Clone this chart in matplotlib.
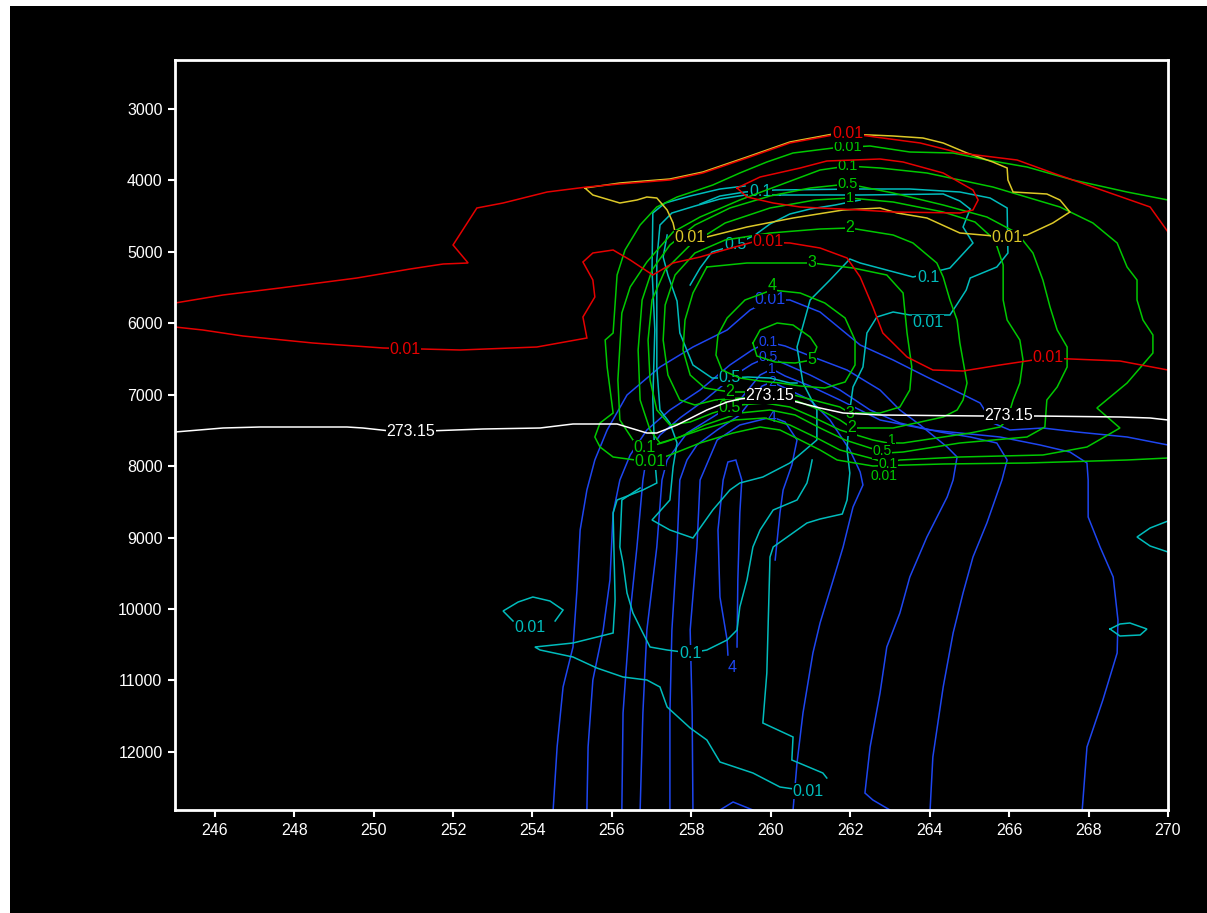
import matplotlib
matplotlib.use("Agg")
import matplotlib.pyplot as plt
from matplotlib.patches import Rectangle

# ---------------- data (x = horizontal coordinate, y = height) ----------------
x_ticks = [246, 248, 250, 252, 254, 256, 258, 260, 262, 264, 266, 268, 270]
y_ticks = [3000, 4000, 5000, 6000, 7000, 8000, 9000, 10000, 11000, 12000]

# 273.15 isotherm
white_x = [245.00, 246.21, 247.14, 249.33, 249.73, 250.66, 252.75, 254.19, 255.02, 256.13, 256.38, 256.88,
           257.13, 257.64, 258.39, 258.90, 259.22, 259.98, 260.66, 261.24, 261.82, 262.75, 265.32, 266.70,
           268.79, 269.55, 270.00]
white_y = [7522, 7466, 7452, 7452, 7466, 7522, 7480, 7466, 7410, 7410, 7452, 7536, 7536, 7424, 7214, 7102,
           7060, 7018, 7102, 7186, 7256, 7284, 7298, 7298, 7312, 7326, 7354]
white_lab = [("273.15", 250.94, 7522), ("273.15", 259.98, 7018), ("273.15", 266.00, 7298)]

# red 0.01 contours
red_top_x = [245.00, 246.21, 247.64, 249.58, 250.92, 251.75, 252.38, 252.00, 252.60, 253.26, 254.37, 255.37,
             256.20, 257.46, 258.29, 259.40, 260.48, 261.57, 262.25, 263.76, 264.76, 266.20, 267.10, 268.11,
             269.55, 270.00]
red_top_y = [5716, 5604, 5506, 5366, 5240, 5170, 5156, 4904, 4386, 4316, 4162, 4092, 4050, 3994, 3896, 3686,
             3476, 3364, 3364, 3476, 3616, 3714, 3896, 4092, 4372, 4722]
red_low_x = [245.00, 245.70, 246.71, 248.47, 250.24, 252.18, 254.11, 255.37, 255.27, 255.57, 255.52, 255.27,
             255.52, 256.03, 256.46, 257.03, 257.54, 258.22, 258.65, 259.55, 260.48, 261.24, 261.92, 262.25,
             262.57, 262.82, 263.43, 264.08, 264.84, 265.77, 266.95, 268.79, 270.00]
red_low_y = [6052, 6094, 6178, 6276, 6346, 6374, 6332, 6206, 5912, 5632, 5394, 5142, 5016, 4974, 5114, 5324,
             5156, 5072, 5002, 4862, 4876, 4946, 5086, 5352, 5772, 6136, 6472, 6654, 6668, 6584, 6486, 6528, 6654]
red_in_x = [259.15, 259.73, 260.74, 261.41, 262.75, 263.33, 264.34, 265.09, 265.22, 265.09, 264.76, 263.08,
            262.25, 260.74, 260.06, 259.40, 259.15]
red_in_y = [4106, 3952, 3826, 3728, 3700, 3742, 3896, 4134, 4274, 4414, 4456, 4442, 4414, 4372, 4316, 4232, 4106]
red_lab = [("0.01", 250.79, 6374), ("0.01", 259.93, 4862), ("0.01", 266.98, 6486), ("0.01", 261.94, 3340)]

# yellow 0.01 contour
yel_x = [255.32, 255.52, 256.20, 256.63, 256.88, 257.13, 257.39, 257.54, 257.59, 258.39, 259.40, 260.56, 261.82,
         262.75, 263.18, 263.93, 264.76, 265.90, 266.45, 267.10, 267.53, 267.28, 266.95, 266.10, 265.97, 265.95,
         265.59, 264.94, 264.34, 263.83, 263.08, 262.50, 261.57, 260.48, 259.40, 258.29, 257.46, 256.20, 255.32]
yel_y = [4106, 4204, 4316, 4274, 4232, 4246, 4414, 4596, 4722, 4792, 4652, 4526, 4414, 4386, 4456, 4526, 4736,
         4792, 4764, 4596, 4442, 4274, 4190, 4162, 3994, 3826, 3742, 3616, 3476, 3406, 3378, 3364, 3350, 3462,
         3672, 3882, 3980, 4036, 4106]
yel_lab = [("0.01", 257.97, 4806), ("0.01", 265.95, 4806)]

# green contours 0.01 ... 5
g001_x = [270.00, 268.97, 267.61, 266.45, 265.44, 264.59, 263.50, 262.50, 261.57, 260.56, 259.90, 259.22, 258.54,
          257.64, 257.13, 256.71, 256.33, 256.13, 256.03, 255.83, 255.88, 256.03, 255.70, 255.57, 255.70, 256.03,
          256.96, 257.46, 258.22, 259.05, 259.73, 260.23, 260.74, 261.24, 261.67, 262.57, 264.34, 266.45, 268.97,
          270.00]
g001_y = [4274, 4162, 3994, 3812, 3714, 3616, 3602, 3518, 3546, 3616, 3742, 3896, 4064, 4232, 4372, 4624, 4974,
          5324, 6136, 6234, 6612, 7256, 7396, 7592, 7732, 7872, 7942, 7844, 7676, 7536, 7452, 7494, 7634, 7774,
          7914, 7998, 7970, 7956, 7914, 7886]
g01_x = [256.83, 256.53, 256.20, 256.15, 256.25, 256.46, 256.88, 257.54, 258.22, 259.22, 260.23, 261.24, 261.94,
         262.75, 263.93, 265.59, 267.28, 268.11, 268.72, 268.97, 269.22, 269.22, 269.37, 269.62, 269.62, 268.97,
         268.21, 268.79, 267.96, 266.85, 264.76, 263.25, 262.92, 262.50, 261.74, 261.11, 260.48, 259.85, 259.10,
         258.22, 257.34, 256.83]
g01_y = [7746, 7634, 7354, 6794, 5856, 5492, 5142, 4722, 4512, 4274, 4064, 3854, 3798, 3826, 3896, 4092, 4372,
         4596, 4876, 5212, 5394, 5674, 5954, 6164, 6416, 6836, 7186, 7466, 7732, 7844, 7872, 7914, 7956, 7886,
         7774, 7592, 7424, 7326, 7354, 7494, 7662, 7746]
g05_x = [261.94, 263.08, 264.34, 265.44, 266.20, 266.60, 266.85, 267.03, 267.21, 267.46, 267.46, 267.21, 266.95,
         266.90, 266.45, 264.76, 263.33, 262.92, 262.50, 261.87, 261.24, 260.61, 259.98, 259.22, 258.34, 257.71,
         257.21, 256.96, 256.71, 256.66, 256.76, 257.01, 257.46, 258.09, 258.97, 259.98, 260.99, 261.94]
g05_y = [4050, 4176, 4344, 4512, 4736, 5016, 5394, 5772, 6094, 6332, 6612, 6892, 7074, 7452, 7592, 7676, 7802,
         7816, 7746, 7634, 7466, 7284, 7214, 7256, 7424, 7592, 7676, 7494, 7074, 6374, 5674, 5254, 4904, 4624,
         4386, 4218, 4106, 4050]
g1_x = [261.99, 263.08, 264.34, 265.14, 265.64, 265.85, 265.85, 265.95, 266.27, 266.35, 266.27, 266.10, 265.95,
        265.77, 265.02, 263.33, 262.95, 262.57, 261.74, 261.06, 260.48, 259.85, 259.22, 258.54, 257.97, 257.46,
        257.13, 256.96, 256.91, 257.01, 257.34, 257.97, 258.85, 259.98, 261.11, 261.99]
g1_y = [4246, 4302, 4442, 4582, 4834, 5184, 5674, 5954, 6234, 6514, 6836, 7074, 7354, 7452, 7536, 7676, 7676,
        7634, 7494, 7312, 7172, 7116, 7144, 7256, 7382, 7424, 7214, 6794, 6234, 5674, 5254, 4904, 4596, 4386,
        4274, 4246]
g2_x = [261.99, 263.08, 263.58, 264.18, 264.34, 264.51, 264.69, 264.76, 264.94, 264.84, 264.69, 264.34, 263.08,
        262.04, 261.74, 261.24, 260.66, 259.98, 259.22, 258.60, 258.09, 257.71, 257.41, 257.29, 257.34, 257.59,
        258.09, 258.85, 259.98, 261.24, 261.99]
g2_y = [4666, 4764, 4876, 5156, 5352, 5674, 5954, 6276, 6836, 7074, 7214, 7312, 7466, 7466, 7354, 7214, 7088,
        7046, 7046, 7074, 7144, 7074, 6724, 6234, 5744, 5324, 5016, 4834, 4736, 4680, 4666]
g3_x = [258.39, 259.40, 261.04, 262.07, 262.92, 263.33, 263.43, 263.55, 263.50, 263.25, 262.75, 261.99, 261.74,
        261.06, 260.48, 259.73, 258.97, 258.34, 257.97, 257.79, 257.84, 258.04, 258.39]
g3_y = [5212, 5156, 5156, 5226, 5324, 5576, 6136, 6612, 6934, 7172, 7256, 7256, 7172, 7074, 6990, 6962, 6962,
        6906, 6724, 6374, 5954, 5576, 5212]
g4_x = [260.03, 260.74, 261.36, 261.87, 262.12, 262.12, 261.87, 261.36, 260.74, 260.23, 259.73, 259.22, 258.77,
        258.62, 258.67, 258.90, 259.35, 260.03]
g4_y = [5534, 5576, 5716, 5926, 6234, 6584, 6822, 6906, 6878, 6836, 6808, 6766, 6654, 6444, 6164, 5926, 5674,
        5534]
g5_x = [259.55, 259.73, 260.16, 260.56, 260.99, 261.16, 261.04, 260.61, 260.11, 259.65, 259.55]
g5_y = [6276, 6094, 5996, 6024, 6192, 6332, 6514, 6556, 6542, 6458, 6276]
green_lab = [("0.01", 261.94, 3532), ("0.1", 261.94, 3798), ("0.5", 261.94, 4050), ("1", 261.99, 4246),
             ("2", 261.99, 4666), ("3", 261.04, 5156), ("4", 260.03, 5478), ("5", 261.04, 6514),
             ("2", 258.97, 6948), ("0.5", 258.97, 7186), ("0.1", 256.83, 7746), ("0.01", 256.96, 7942),
             ("3", 261.99, 7256), ("2", 262.04, 7466), ("1", 263.05, 7634), ("0.5", 262.80, 7788),
             ("0.1", 262.95, 7970), ("0.01", 262.85, 8138)]

# cyan contours
cy_top_x = [258.22, 258.72, 259.35, 260.11, 262.25, 263.50, 264.76, 265.52, 265.95, 265.97, 265.69, 265.02,
            264.92, 264.71, 264.51, 263.50, 263.08, 262.67, 262.42, 262.32, 262.07, 261.99, 261.92, 261.99,
            261.92, 261.80, 261.24, 260.91, 260.06, 259.98, 259.90, 259.80, 260.56, 260.53, 261.31, 261.41]
cy_top_y = [4330, 4218, 4162, 4134, 4120, 4120, 4162, 4246, 4386, 5016, 5212, 5366, 5534, 5716, 5884, 5884,
            5842, 5912, 6136, 6612, 6892, 7214, 7774, 8096, 8474, 8670, 8740, 8796, 9132, 9272, 10896, 11596,
            11792, 12114, 12296, 12366]
cy_in_x = [260.23, 262.25, 264.34, 264.76, 265.02, 264.84, 265.09, 264.51, 263.58, 262.25, 261.99, 261.49,
           260.99, 260.66, 260.81, 261.16, 261.16, 260.48, 259.80, 259.22, 258.97, 258.54, 258.04, 257.46,
           257.01, 257.46, 257.54, 257.64, 257.46, 257.21, 257.13, 257.13, 257.13, 257.21, 257.51, 258.09,
           258.72, 259.35, 260.23]
cy_in_y = [4204, 4204, 4190, 4288, 4400, 4652, 4876, 5226, 5352, 5156, 5100, 5394, 5674, 6332, 6836, 7214,
           7634, 7956, 8152, 8236, 8334, 8614, 9006, 8894, 8754, 8474, 8012, 7676, 7396, 7214, 6612, 5674,
           5114, 4624, 4456, 4358, 4260, 4204, 4204]
cy_05a_x = [257.97, 258.22, 258.52, 259.10, 259.60, 259.98, 260.48, 260.99, 261.62, 262.25]
cy_05a_y = [5464, 5226, 5002, 4904, 4764, 4610, 4470, 4400, 4344, 4274]
cy_05b_x = [257.39, 257.29, 257.41, 257.64, 257.71, 258.04, 258.52, 258.97, 259.42, 259.98, 260.48, 260.66]
cy_05b_y = [4764, 5072, 5324, 5690, 6136, 6584, 6766, 6766, 6752, 6766, 6836, 6836]
cy_big_x = [259.35, 258.72, 257.97, 257.34, 257.03, 257.01, 257.08, 257.03, 257.08, 257.13, 256.78, 256.13,
            256.03, 256.08, 256.03, 255.02, 254.06, 254.19, 255.02, 255.62, 256.28, 256.88, 257.21, 257.39,
            257.97, 258.39, 258.72, 259.55, 260.23, 260.94]
cy_big_y = [4078, 4120, 4218, 4316, 4456, 5254, 6094, 7074, 7914, 8236, 8334, 8474, 8656, 9874, 10336, 10476,
            10532, 10574, 10672, 10826, 10952, 10994, 11092, 11372, 11666, 11834, 12142, 12296, 12492, 12548]
cy_01_x = [256.71, 256.25, 256.20, 256.28, 256.38, 256.53, 256.78, 256.96, 257.39, 257.97, 258.39, 258.90,
           259.15, 259.22, 259.40, 259.55, 259.73, 260.06, 260.66, 260.91, 260.99, 261.04]
cy_01_y = [8306, 8474, 9132, 9356, 9776, 10056, 10336, 10532, 10574, 10616, 10574, 10434, 10294, 9972, 9594,
           9132, 8894, 8614, 8474, 8236, 8054, 7914]
cy_s1_x = [253.51, 253.26, 253.64, 254.01, 254.44, 254.77, 254.57]
cy_s1_y = [10168, 10028, 9902, 9832, 9888, 10014, 10168]
cy_s2_x = [270.00, 269.55, 269.22, 269.55, 270.00]
cy_s2_y = [8768, 8866, 8992, 9118, 9202]
cy_s3_x = [268.54, 268.79, 269.04, 269.47, 269.30, 268.79, 268.54]
cy_s3_y = [10280, 10210, 10196, 10280, 10364, 10378, 10280]
cyan_lab = [("0.1", 259.73, 4162), ("0.5", 259.10, 4904), ("0.1", 263.96, 5366), ("0.01", 263.96, 5994),
            ("0.5", 258.97, 6766), ("0.01", 253.94, 10252), ("0.1", 257.97, 10616), ("0.01", 260.94, 12548)]

# blue contours
b001_x = [254.52, 254.62, 254.77, 255.02, 255.12, 255.20, 255.37, 255.57, 255.88, 256.38, 257.21, 258.04,
          258.90, 259.48, 259.98, 260.48, 261.24, 262.25, 263.08, 263.93, 264.76, 265.27, 265.59, 266.02,
          266.85, 267.71, 268.97, 270.00]
b001_y = [12814, 11932, 11092, 10532, 9734, 8894, 8334, 7914, 7494, 7004, 6612, 6332, 6094, 5814, 5674, 5674,
          5842, 6304, 6514, 6752, 6976, 7116, 7396, 7494, 7466, 7522, 7592, 7704]
b01_x = [255.37, 255.40, 255.52, 255.78, 255.95, 256.03, 256.20, 256.46, 256.88, 257.46, 258.22, 258.97, 259.53,
         259.93, 260.36, 261.06, 261.92, 262.75, 263.25, 263.76, 264.13, 264.44, 264.69, 264.59, 264.44, 263.93,
         263.50, 263.25, 262.92, 262.75, 262.50, 262.37, 262.57, 263.00]
b01_y = [12814, 11932, 10994, 10294, 9594, 8656, 8194, 7844, 7494, 7214, 6934, 6584, 6374, 6262, 6318, 6472,
         6654, 6934, 7214, 7424, 7592, 7732, 7872, 8194, 8432, 8992, 9552, 10056, 10532, 11176, 11932, 12576,
         12674, 12814]
b05_x = [256.25, 256.28, 256.46, 256.63, 256.78, 256.88, 257.21, 257.71, 258.34, 259.10, 259.53, 259.93, 260.36,
         260.99, 261.74, 262.50, 263.25, 264.26, 265.02, 265.69, 265.95, 265.82, 265.44, 265.09, 264.84, 264.59,
         264.34, 264.08, 264.01]
b05_y = [12814, 11456, 10056, 9132, 8194, 7844, 7564, 7326, 7074, 6724, 6570, 6472, 6570, 6724, 6934, 7214,
         7396, 7522, 7592, 7676, 7914, 8194, 8796, 9272, 9776, 10336, 11092, 12072, 12814]
b1_x = [256.71, 256.78, 256.88, 257.13, 257.26, 257.39, 257.89, 258.54, 259.22, 259.73, 260.03, 260.36, 260.99,
        261.74, 262.75, 264.01, 265.77, 266.78, 267.53, 267.96, 267.99, 267.99, 268.29, 268.62, 268.74, 268.72,
        268.36, 267.96, 267.84]
b1_y = [12814, 11456, 10294, 9132, 8194, 7914, 7536, 7312, 7074, 6724, 6640, 6738, 6878, 7074, 7354, 7494,
        7592, 7704, 7802, 7956, 8194, 8712, 9132, 9552, 10154, 10616, 11274, 11932, 12814]
b2_x = [257.46, 257.46, 257.51, 257.64, 257.71, 257.89, 258.14, 258.65, 259.22, 259.78, 260.03, 260.36, 260.99,
        261.49, 261.99, 262.25, 262.32, 262.07, 261.82, 261.57, 261.24, 261.06, 260.81, 260.66, 260.56]
b2_y = [12814, 11456, 10294, 9132, 8194, 7914, 7704, 7494, 7284, 6878, 6822, 6906, 7074, 7354, 7774, 8082,
        8264, 8572, 9132, 9594, 10196, 10616, 11456, 12156, 12814]
b4_x = [258.04, 258.02, 257.97, 258.14, 258.22, 258.65, 259.22, 259.73, 260.03, 260.36, 260.66, 260.53, 260.31,
        260.23, 260.11]
b4_y = [12814, 11456, 10294, 9132, 8194, 7634, 7424, 7354, 7312, 7382, 7634, 7984, 8334, 8656, 9314]
b4b_x = [258.92, 258.90, 258.72, 258.67, 258.80, 258.92, 259.12, 259.27, 259.22, 259.17, 259.15]
b4b_y = [10644, 10434, 9832, 8894, 8194, 7942, 7914, 8194, 8656, 9594, 10532]
barc_x = [258.72, 259.05, 259.55]
barc_y = [12814, 12702, 12814]
blue_lab = [("0.01", 259.98, 5674), ("0.1", 259.93, 6262), ("0.5", 259.93, 6472), ("1", 260.03, 6640),
            ("2", 260.03, 6822), ("4", 260.03, 7312), ("4", 259.02, 10812)]

# ---------------- styling ----------------
C_RED = "#e60000"
C_YEL = "#dcc828"
C_GRN = "#00c800"
C_CYN = "#00bcbc"
C_BLU = "#1e46f0"
C_WHT = "#ffffff"
LW = 1.1
FAM = ["Liberation Sans", "DejaVu Sans"]
LAB_SIZE = 11.5
STACK_SIZE = 10.5
TIGHT_SIZE = 10

fig = plt.figure(figsize=(12.07, 9.13), dpi=100)
fig.patch.set_facecolor("white")
fig.add_artist(Rectangle((10 / 1207, 0), 1, 1 - 6 / 913, transform=fig.transFigure,
                         facecolor="black", edgecolor="none", zorder=-10))

ax = fig.add_axes([175 / 1207, 1 - 810 / 913, (1168 - 175) / 1207, (810 - 60) / 913])
ax.set_facecolor("black")
ax.set_xlim(245, 270)
ax.set_ylim(12814, 2314)


def draw(xs, ys, color, z):
    ax.plot(xs, ys, color=color, lw=LW, zorder=z, solid_joinstyle="miter")


def labels(items, color, z, stacked=(), tight=()):
    for i, (txt, lx, ly) in enumerate(items):
        size = TIGHT_SIZE if i in tight else (STACK_SIZE if i in stacked else LAB_SIZE)
        ax.text(lx, ly, txt, color=color, ha="center", va="center", zorder=z, family=FAM, fontsize=size,
                bbox=dict(boxstyle="square,pad=0.05", fc="black", ec="none"))


for xs, ys in [(b001_x, b001_y), (b01_x, b01_y), (b05_x, b05_y), (b1_x, b1_y), (b2_x, b2_y),
               (b4_x, b4_y), (b4b_x, b4b_y), (barc_x, barc_y)]:
    draw(xs, ys, C_BLU, 2)
labels(blue_lab, C_BLU, 2.5, tight=(1, 2, 3, 4))

for xs, ys in [(cy_top_x, cy_top_y), (cy_in_x, cy_in_y), (cy_05a_x, cy_05a_y), (cy_05b_x, cy_05b_y),
               (cy_big_x, cy_big_y), (cy_01_x, cy_01_y), (cy_s1_x, cy_s1_y), (cy_s2_x, cy_s2_y),
               (cy_s3_x, cy_s3_y)]:
    draw(xs, ys, C_CYN, 3)
labels(cyan_lab, C_CYN, 3.5)

for xs, ys in [(g001_x, g001_y), (g01_x, g01_y), (g05_x, g05_y), (g1_x, g1_y), (g2_x, g2_y),
               (g3_x, g3_y), (g4_x, g4_y), (g5_x, g5_y)]:
    draw(xs, ys, C_GRN, 4)
labels(green_lab, C_GRN, 4.5, stacked=(0, 1, 2, 3), tight=(14, 15, 16, 17))

draw(yel_x, yel_y, C_YEL, 5)
labels(yel_lab, C_YEL, 5.5)

for xs, ys in [(red_top_x, red_top_y), (red_low_x, red_low_y), (red_in_x, red_in_y)]:
    draw(xs, ys, C_RED, 6)
labels(red_lab, C_RED, 6.5)

draw(white_x, white_y, C_WHT, 7)
labels(white_lab, C_WHT, 7.5)

ax.set_xticks(x_ticks)
ax.set_xticklabels([str(v) for v in x_ticks])
ax.set_yticks(y_ticks)
ax.set_yticklabels([str(v) for v in y_ticks])
ax.tick_params(colors="white", direction="out", length=5, width=1.5, pad=4, labelsize=11.5)
for lab in ax.get_xticklabels() + ax.get_yticklabels():
    lab.set_family(FAM)
for sp in ax.spines.values():
    sp.set_color("white")
    sp.set_linewidth(2)
    sp.set_zorder(10)

fig.savefig("out.png", dpi=100, facecolor=fig.get_facecolor())
